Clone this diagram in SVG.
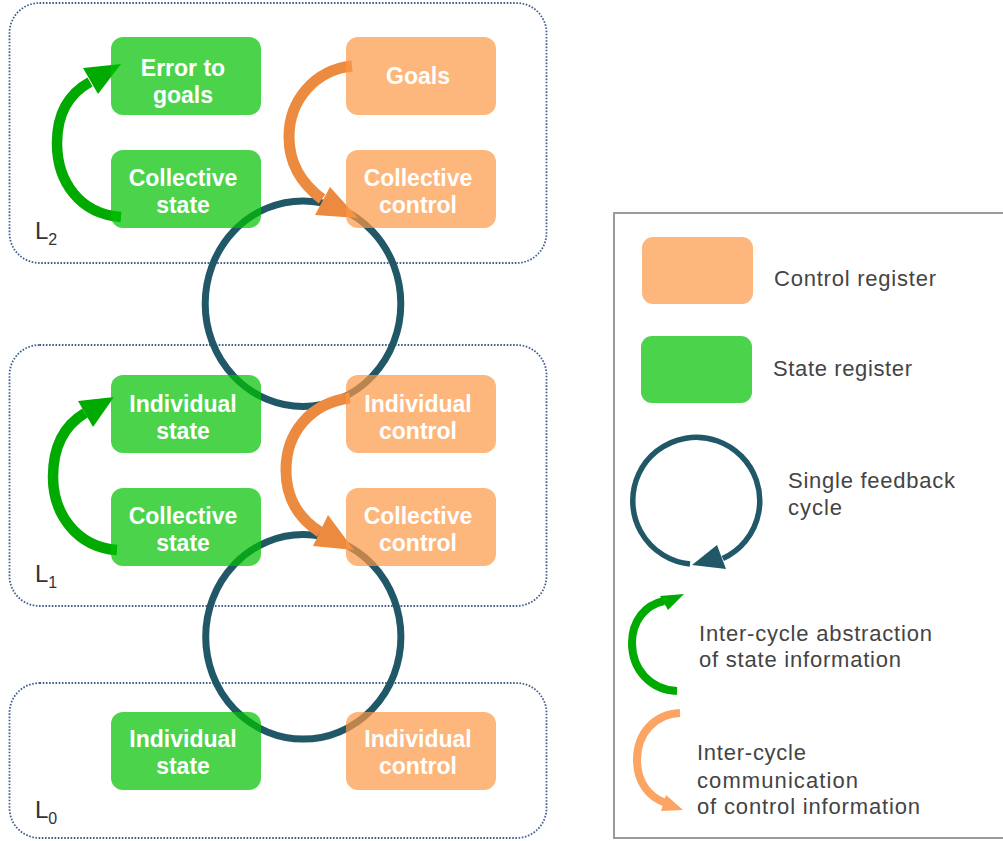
<svg xmlns="http://www.w3.org/2000/svg" width="1003" height="841" viewBox="0 0 1003 841">
<style>
.layer{fill:none;stroke:#3f5f8f;stroke-width:1.8;stroke-dasharray:1.6 1.6}
.st{fill:#00c000;fill-opacity:0.7}
.ct{fill:#fc9745;fill-opacity:0.7}
.nt{font-family:"Liberation Sans",Arial,sans-serif;font-weight:bold;font-size:23px;fill:#fff;text-anchor:middle}
.cyc{fill:none;stroke:#215868;stroke-width:7}
.ga{fill:none;stroke:#00aa00;stroke-width:10.5}
.gh{fill:#00aa00}
.oa{fill:none;stroke:#ec8a3f;stroke-width:11}
.oh{fill:#ec8a3f}
.lga{fill:none;stroke:#00aa00;stroke-width:8}
.loa{fill:none;stroke:#fca464;stroke-width:8}
.loh{fill:#fca464}
.lcyc{fill:none;stroke:#215868;stroke-width:5.5}
.lt{font-family:"Liberation Sans",Arial,sans-serif;font-size:22px;fill:#444}
.lbl{font-family:"Liberation Sans",Arial,sans-serif;font-size:24px;fill:#333}
</style>
<rect width="1003" height="841" fill="#fff"/>

<g id="layers">
  <g id="layer-L2">
    <rect class="layer" x="9.5" y="3" width="537" height="260" rx="30"/>
    <text class="lbl" x="35" y="239">L<tspan font-size="16" dy="6">2</tspan></text>
  </g>
  <g id="layer-L1">
    <rect class="layer" x="9.5" y="345" width="537" height="261" rx="30"/>
    <text class="lbl" x="35" y="582">L<tspan font-size="16" dy="6">1</tspan></text>
  </g>
  <g id="layer-L0">
    <rect class="layer" x="9.5" y="683" width="537" height="155" rx="30"/>
    <text class="lbl" x="35" y="818">L<tspan font-size="16" dy="6">0</tspan></text>
  </g>
</g>

<g id="connectors">
  <ellipse class="cyc" cx="303" cy="303.7" rx="97.8" ry="102.8"/>
  <ellipse class="cyc" cx="303.3" cy="636.8" rx="97.6" ry="102.3"/>
  <path class="ga" d="M121,217 C80,214 57,182 57,143 C57,112 70,93 90,82"/>
  <polygon class="gh" points="121,64 83,68 98,94"/>
  <path class="ga" d="M117,550 C76,547 53,513 53,477 C53,446 65,425 85,413"/>
  <polygon class="gh" points="114,397 78,401 93,427"/>
  <path class="oa" d="M352,66 C315,70 289,100 289,137 C289,163 302,184 322,199"/>
  <polygon class="oh" points="358,218 315,215 330,187"/>
  <path class="oa" d="M350,398 C310,403 286,433 286,470 C286,497 298,518 320,532"/>
  <polygon class="oh" points="354,550 313,546 328,515"/>
</g>

<g id="n-error-to-goals"><rect class="st" x="111" y="37" width="150" height="78" rx="12"/><text class="nt" x="183" y="76">Error to</text><text class="nt" x="183" y="103">goals</text></g>
<g id="n-goals"><rect class="ct" x="346" y="37" width="150" height="78" rx="12"/><text class="nt" x="418" y="84">Goals</text></g>
<g id="n-collective-state-L2"><rect class="st" x="111" y="150" width="150" height="78" rx="12"/><text class="nt" x="183" y="186">Collective</text><text class="nt" x="183" y="213">state</text></g>
<g id="n-collective-control-L2"><rect class="ct" x="346" y="150" width="150" height="78" rx="12"/><text class="nt" x="418" y="186">Collective</text><text class="nt" x="418" y="213">control</text></g>
<g id="n-individual-state-L1"><rect class="st" x="111" y="375" width="150" height="78" rx="12"/><text class="nt" x="183" y="412">Individual</text><text class="nt" x="183" y="439">state</text></g>
<g id="n-individual-control-L1"><rect class="ct" x="346" y="375" width="150" height="78" rx="12"/><text class="nt" x="418" y="412">Individual</text><text class="nt" x="418" y="439">control</text></g>
<g id="n-collective-state-L1"><rect class="st" x="111" y="488" width="150" height="78" rx="12"/><text class="nt" x="183" y="524">Collective</text><text class="nt" x="183" y="551">state</text></g>
<g id="n-collective-control-L1"><rect class="ct" x="346" y="488" width="150" height="78" rx="12"/><text class="nt" x="418" y="524">Collective</text><text class="nt" x="418" y="551">control</text></g>
<g id="n-individual-state-L0"><rect class="st" x="111" y="712" width="150" height="78" rx="12"/><text class="nt" x="183" y="747">Individual</text><text class="nt" x="183" y="774">state</text></g>
<g id="n-individual-control-L0"><rect class="ct" x="346" y="712" width="150" height="78" rx="12"/><text class="nt" x="418" y="747">Individual</text><text class="nt" x="418" y="774">control</text></g>

<g id="legend">
  <rect x="614" y="213" width="400" height="625" fill="none" stroke="#9a9a9a" stroke-width="2"/>
  <rect class="ct" x="642" y="237" width="111" height="67" rx="11"/>
  <text class="lt" x="774" y="286" textLength="162" lengthAdjust="spacing">Control register</text>
  <rect class="st" x="641" y="336" width="111" height="67" rx="11"/>
  <text class="lt" x="773" y="376" textLength="139" lengthAdjust="spacing">State register</text>
  <path class="lcyc" d="M690,564 A63.5,63.5 0 1 1 722.8,558.5"/>
  <polygon fill="#215868" points="692,565 717,545 726,569"/>
  <text class="lt" x="788" y="488" textLength="167" lengthAdjust="spacing">Single feedback</text>
  <text class="lt" x="788" y="515" textLength="54" lengthAdjust="spacing">cycle</text>
  <path class="lga" d="M677,691 C651,690 632,670 632,643 C632,621 645,605 664,601"/>
  <polygon class="gh" points="684,594 660,596 668,610"/>
  <text class="lt" x="699" y="641" textLength="233" lengthAdjust="spacing">Inter-cycle abstraction</text>
  <text class="lt" x="699" y="667" textLength="202" lengthAdjust="spacing">of state information</text>
  <path class="loa" d="M680,713 C655,714 637,733 637,760 C637,783 650,798 666,803"/>
  <polygon class="loh" points="683,810 666,795 661,811"/>
  <text class="lt" x="697" y="760" textLength="109" lengthAdjust="spacing">Inter-cycle</text>
  <text class="lt" x="697" y="788" textLength="161" lengthAdjust="spacing">communication</text>
  <text class="lt" x="697" y="814" textLength="223" lengthAdjust="spacing">of control information</text>
</g>
</svg>
